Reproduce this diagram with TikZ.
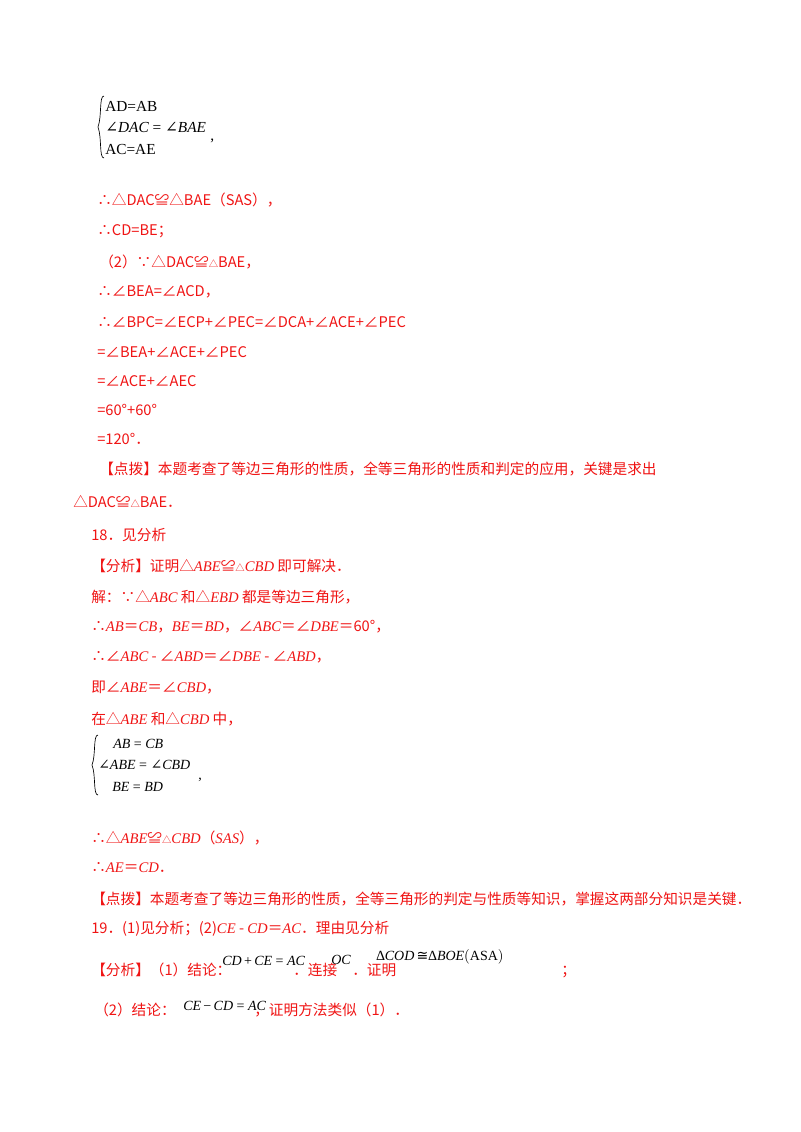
\documentclass[tikz,border=0pt]{standalone}
\usepackage{fontspec}
\setmainfont{Liberation Serif}
\newfontfamily\cjk{Noto Sans CJK SC}
\newfontfamily\sr{Liberation Serif}
\newfontfamily\dvs{DejaVu Serif}
\newfontfamily\dvss{DejaVu Sans}
\definecolor{rd}{RGB}{240,20,20}
\newcommand{\st}{{\scriptsize △}}
\newcommand{\mi}[1]{{\sr\itshape #1}}
\newcommand{\ag}{{\dvs\itshape ∠}}
\newcommand{\cg}{{\dvss ≅}}
\begin{document}
\begin{tikzpicture}[x=0.75pt,y=-0.75pt,
  rt/.style={anchor=west,inner sep=0pt,text=rd,font=\cjk\fontsize{11}{12}\selectfont},
  bt/.style={anchor=west,inner sep=0pt,text=black,font=\sr\fontsize{11.5}{12}\selectfont},
  sm/.style={anchor=west,inner sep=0pt,text=black,font=\sr\fontsize{10.5}{12}\selectfont}]
\useasboundingbox[fill=white] (0,0) rectangle (800,1132);
% brace 1
\node[bt] (b1) at (105,106) {AD=AB};
\node[bt] (b2) at (105,127) {\ag\mi{DAC} = \ag\mi{BAE}};
\node[bt] (b3) at (105,149) {AC=AE};
\node[bt] (b4) at (210,141) {,};
\draw[line width=0.5pt] (104,96) .. controls (99,96) and (102,116) .. (98,127) .. controls (102,138) and (99,158) .. (104,158);
\node[rt] (l1) at (97,200) {∴△DAC≌△BAE（SAS），};
\node[rt] (l2) at (97,231) {∴CD=BE；};
\node[rt] (l3) at (99,262) {（2）∵△DAC≌\st BAE，};
\node[rt] (l4) at (97,292) {∴∠BEA=∠ACD，};
\node[rt] (l5) at (97,322) {∴∠BPC=∠ECP+∠PEC=∠DCA+∠ACE+∠PEC};
\node[rt] (l6) at (97,352) {=∠BEA+∠ACE+∠PEC};
\node[rt] (l7) at (97,381) {=∠ACE+∠AEC};
\node[rt] (l8) at (97,410) {=60°+60°};
\node[rt] (l9) at (97,439) {=120°．};
\node[rt] (l10) at (99,469) {【点拨】本题考查了等边三角形的性质，全等三角形的性质和判定的应用，关键是求出};
\node[rt] (l11) at (73,502) {△DAC≌\st BAE．};
\node[rt] (l12) at (91,535) {18．见分析};
\node[rt] (l13) at (91,566) {【分析】证明△\mi{ABE}≌\st\mi{CBD} 即可解决．};
\node[rt] (l14) at (91,597) {解：∵△\mi{ABC} 和△\mi{EBD} 都是等边三角形，};
\node[rt] (l15) at (91,627) {∴\mi{AB}＝\mi{CB}，\mi{BE}＝\mi{BD}，∠\mi{ABC}＝∠\mi{DBE}＝60°，};
\node[rt] (l16) at (91,657) {∴∠\mi{ABC} - ∠\mi{ABD}＝∠\mi{DBE} - ∠\mi{ABD}，};
\node[rt] (l17) at (91,688) {即∠\mi{ABE}＝∠\mi{CBD}，};
\node[rt] (l18) at (91,719) {在△\mi{ABE} 和△\mi{CBD} 中，};
% brace 2
\node[sm] (c1) at (113,744) {\mi{AB} = \mi{CB}};
\node[sm] (c2) at (98,765) {\ag\mi{ABE} = \ag\mi{CBD}};
\node[sm] (c3) at (112,787) {\mi{BE} = \mi{BD}};
\node[sm] (c4) at (198,780) {,};
\draw[line width=0.5pt] (98,735) .. controls (93,735) and (96,755) .. (92,765) .. controls (96,775) and (93,795) .. (98,795);
\node[rt] (l19) at (91,838) {∴△\mi{ABE}≌\st\mi{CBD}（\mi{SAS}），};
\node[rt] (l20) at (91,868) {∴\mi{AE}＝\mi{CD}．};
\node[rt] (l21) at (91,899) {【点拨】本题考查了等边三角形的性质，全等三角形的判定与性质等知识，掌握这两部分知识是关键．};
\node[rt] (l22) at (91,929) {19．(1)见分析；(2)\mi{CE} - \mi{CD}＝\mi{AC}．理由见分析};
\node[rt] (l23) at (91,970) {【分析】（1）结论：};
\node[sm] (m1) at (222,961) {\mi{CD}\,+\,\mi{CE} = \mi{AC}};
\node[rt] (l24) at (293,970) {．连接};
\node[sm] (m2) at (331,960) {\mi{OC}};
\node[rt] (l25) at (352,970) {．证明};
\node[sm] (m3) at (376,957) {∆\mi{COD}\,\cg∆\mi{BOE}\big(ASA\big)};
\node[rt] (l26) at (561,972) {；};
\node[rt] (l27) at (94,1010) {（2）结论：};
\node[sm] (m4) at (183,1006) {\mi{CE}\,−\,\mi{CD} = \mi{AC}};
\node[rt] (l28) at (254,1010) {，证明方法类似（1）．};
\end{tikzpicture}
\end{document}
